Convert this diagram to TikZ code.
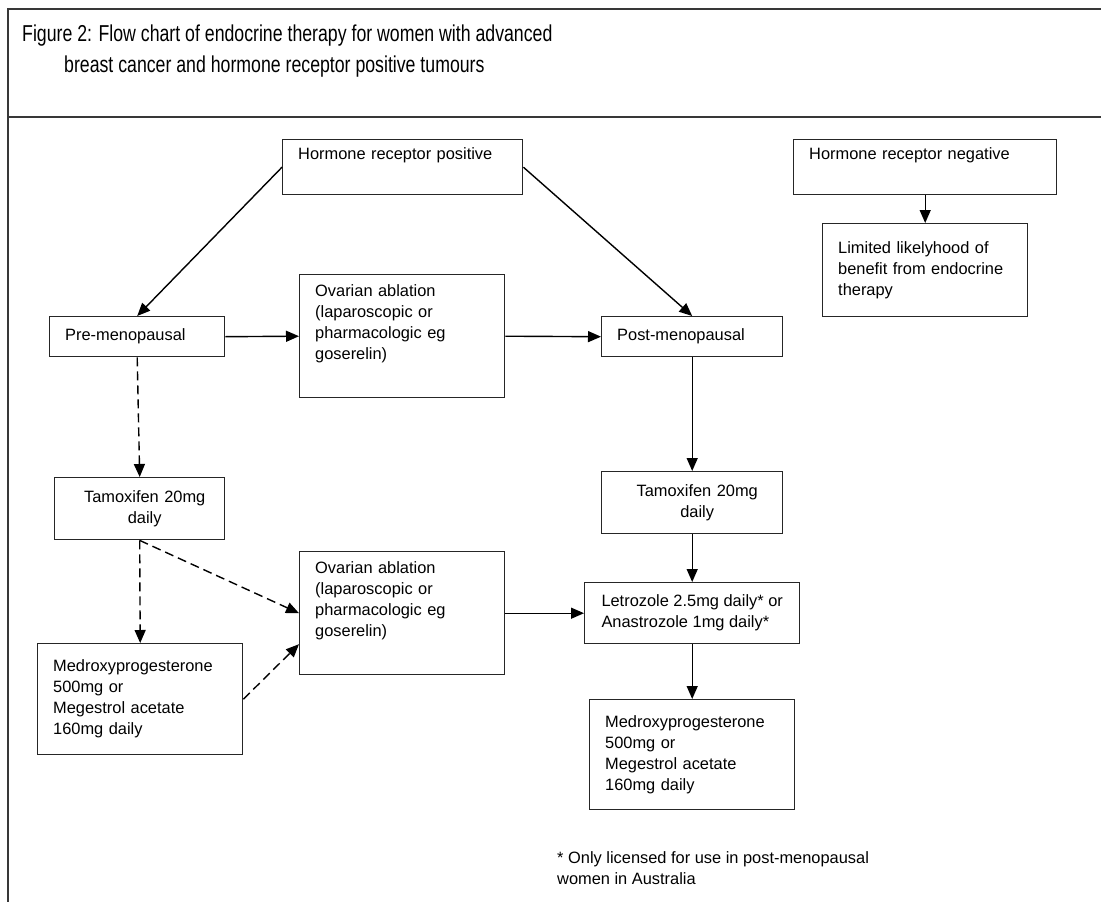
\documentclass[tikz,border=0pt]{standalone}
\usepackage{fontspec}
\setmainfont{Liberation Sans}
\newfontfamily\titlefont[FakeStretch=0.77]{Liberation Sans}
\usetikzlibrary{arrows.meta}
\colorlet{framegrey}{black!78}
\colorlet{boxgrey}{black!85}

\begin{document}
\begin{tikzpicture}[x=1pt, y=-1pt,
  box/.style={draw=boxgrey, line width=1.4pt, anchor=north west, align=left,
    inner xsep=15.5pt, inner ysep=0pt, font=\fontsize{16.4}{21}\selectfont},
  flow/.style={-{Triangle[length=13pt, width=11pt]}, line width=1.4pt},
  maybe/.style={flow, dash pattern=on 9pt off 5pt}]
  \useasboundingbox (0,0) rectangle (1101,902);

  % frame and heading
  \draw[framegrey, line width=2pt] (1101,9) -- (7.5,9) -- (7.5,902);
  \draw[framegrey, line width=2pt] (7.5,117) -- (1101,117);
  \node[anchor=north west, align=left, inner sep=0pt,
    font=\titlefont\fontsize{23}{31}\selectfont] (title) at (22,25)
    {Figure 2: Flow chart of endocrine therapy for women with advanced\\
     \hspace*{42pt}breast cancer and hormone receptor positive tumours};

  % top row
  \node[box, minimum width=240pt, minimum height=55pt, text width=209pt] (hrpos) at (282,139)
    {Hormone receptor positive\\\strut};
  \node[box, minimum width=263pt, minimum height=55pt, text width=232pt] (hrneg) at (793,139)
    {Hormone receptor negative\\\strut};
  \node[box, minimum width=205pt, minimum height=93pt, text width=174pt] (limited) at (822,223)
    {Limited likelyhood of\\benefit from endocrine\\therapy};

  % menopausal status
  \node[box, minimum width=175pt, minimum height=40pt, text width=144pt] (pre) at (49,316)
    {Pre-menopausal};
  \node[box, minimum width=205pt, minimum height=123pt, text width=174pt] (ovtop) at (299,274)
    {Ovarian ablation\\(laparoscopic or\\pharmacologic eg\\goserelin)\\\strut};
  \node[box, minimum width=181pt, minimum height=40pt, text width=150pt] (post) at (601,316)
    {Post-menopausal};

  % pre-menopausal branch
  \node[box, align=center, minimum width=170pt, minimum height=62pt, text width=139pt] (tamleft) at (54,477)
    {\hspace*{10pt}Tamoxifen 20mg\\\hspace*{10pt}daily};
  \node[box, minimum width=205pt, minimum height=111pt, text width=174pt] (medleft) at (37,643)
    {Medroxyprogesterone\\500mg or\\Megestrol acetate\\160mg daily};
  \node[box, minimum width=205pt, minimum height=123pt, text width=174pt] (ovbot) at (299,551)
    {Ovarian ablation\\(laparoscopic or\\pharmacologic eg\\goserelin)\\\strut};

  % post-menopausal branch
  \node[box, align=center, minimum width=181pt, minimum height=62pt, text width=150pt] (tamright) at (601,471)
    {\hspace*{10pt}Tamoxifen 20mg\\\hspace*{10pt}daily};
  \node[box, minimum width=215pt, minimum height=61pt] (letro) at (584,582)
    {Letrozole 2.5mg daily* or\\Anastrozole 1mg daily*};
  \node[box, minimum width=205pt, minimum height=110pt, text width=174pt] (medright) at (589,699)
    {Medroxyprogesterone\\500mg or\\Megestrol acetate\\160mg daily};

  \node[anchor=north west, align=left, inner sep=0pt, font=\fontsize{16.4}{21}\selectfont] (note) at (557,851)
    {* Only licensed for use in post-menopausal\\women in Australia};

  % solid arrows
  \draw[flow] (hrpos.west) -- (pre.north);
  \draw[flow] (hrpos.east) -- (post.north);
  \draw[flow] (hrneg.south) -- (limited.north);
  \draw[flow] (pre.east) -- (ovtop.west);
  \draw[flow] (ovtop.east) -- (post.west);
  \draw[flow] (post.south) -- (tamright.north);
  \draw[flow] (tamright.south) -- (letro.north);
  \draw[flow] (ovbot.east) -- (letro.west);
  \draw[flow] (letro.south) -- (medright.north);

  % dashed arrows
  \draw[maybe] (pre.south) -- (tamleft.north);
  \draw[maybe] (tamleft.south) -- (medleft.north);
  \draw[maybe] (tamleft.south) -- (ovbot.west);
  \draw[maybe] (medleft.east) -- ([yshift=-31pt]ovbot.west);

\end{tikzpicture}
\end{document}
